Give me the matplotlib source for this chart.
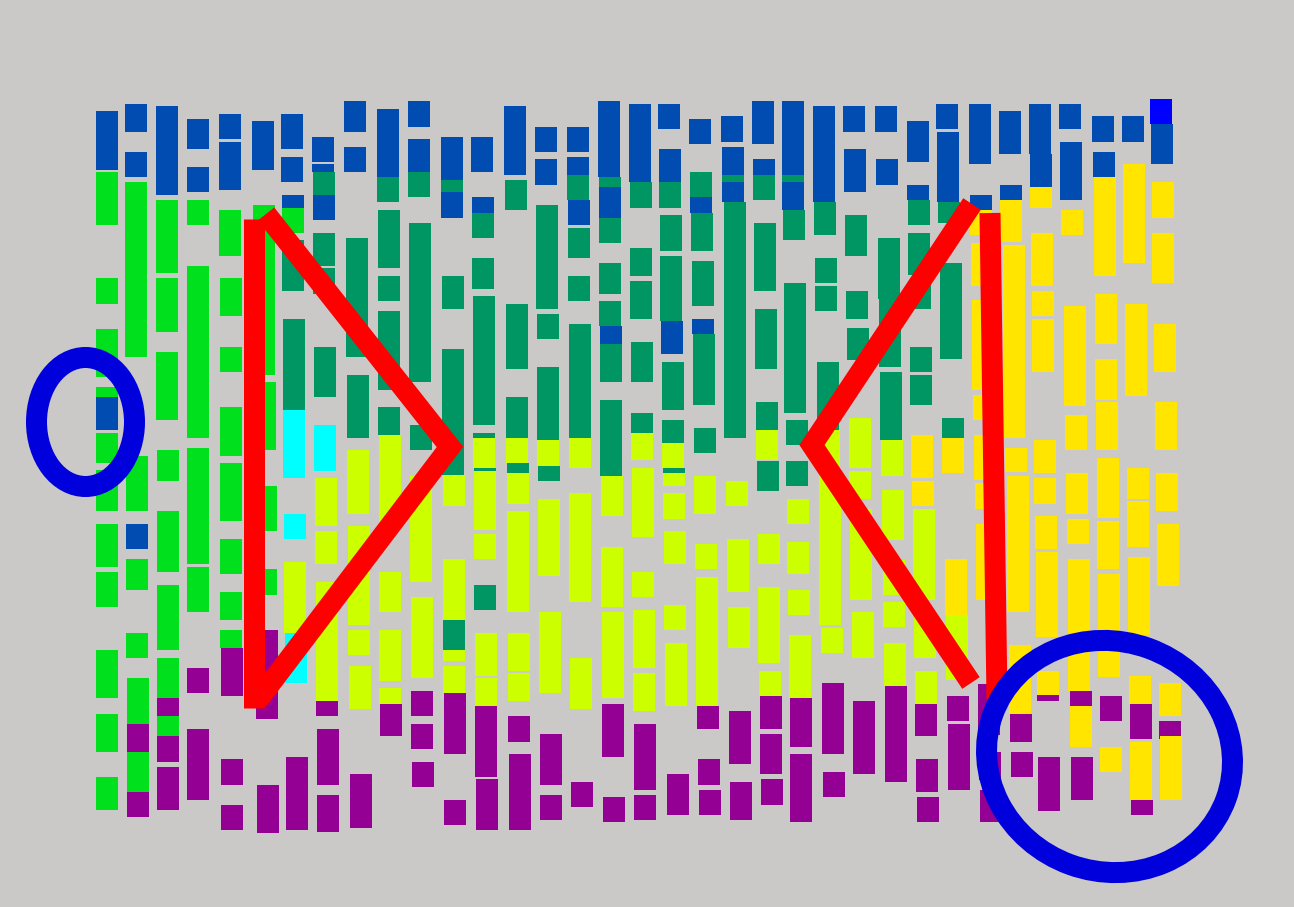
import matplotlib.pyplot as plt
from matplotlib.patches import Ellipse

# column centres (px) at the top (y=100) and bottom (y=830) of the board
col_x_top = [107, 136, 167, 198, 230, 263, 292, 323, 355, 388, 419, 452,
             482, 515, 546, 578, 609, 640, 669, 700, 732, 763, 792, 823,
             854, 886, 917, 947, 979, 1009, 1040, 1070, 1103, 1133, 1161]
col_x_bottom = [107, 138, 168, 198, 232, 268, 297, 328, 361, 391, 423, 455,
                487, 520, 551, 582, 614, 645, 678, 710, 741, 772, 802, 835,
                866, 898, 928, 960, 991, 1023, 1050, 1083, 1112, 1142, 1172]

# blocks per column: (top, bottom, colour code)
seg_00 = [(111, 170, 'B'), (172, 225, 'G'), (278, 304, 'G'), (329, 377, 'G'), (387, 405, 'G'),
          (397, 430, 'B'), (433, 463, 'G'), (470, 511, 'G'), (524, 567, 'G'), (572, 607, 'G'),
          (650, 698, 'G'), (714, 752, 'G'), (777, 810, 'G')]
seg_01 = [(104, 132, 'B'), (152, 177, 'B'), (182, 357, 'G'), (456, 511, 'G'), (524, 549, 'B'),
          (559, 590, 'G'), (633, 658, 'G'), (678, 724, 'G'), (724, 752, 'P'), (752, 792, 'G'),
          (792, 817, 'P')]
seg_02 = [(106, 195, 'B'), (200, 273, 'G'), (278, 332, 'G'), (352, 420, 'G'), (450, 481, 'G'),
          (511, 572, 'G'), (585, 650, 'G'), (658, 698, 'G'), (698, 716, 'P'), (716, 736, 'G'),
          (736, 762, 'P'), (767, 810, 'P')]
seg_03 = [(119, 149, 'B'), (167, 192, 'B'), (200, 225, 'G'), (266, 438, 'G'), (448, 564, 'G'),
          (567, 612, 'G'), (668, 693, 'P'), (729, 800, 'P')]
seg_04 = [(114, 139, 'B'), (142, 190, 'B'), (210, 256, 'G'), (278, 316, 'G'), (347, 372, 'G'),
          (407, 456, 'G'), (463, 521, 'G'), (539, 574, 'G'), (592, 620, 'G'), (630, 648, 'G'),
          (648, 696, 'P'), (759, 785, 'P'), (805, 830, 'P')]
seg_05 = [(121, 170, 'B'), (205, 375, 'G'), (382, 450, 'G'), (486, 531, 'G'), (569, 595, 'G'),
          (630, 719, 'P'), (785, 833, 'P')]
seg_06 = [(114, 149, 'B'), (157, 182, 'B'), (195, 208, 'B'), (208, 233, 'G'), (240, 291, 'T'),
          (319, 410, 'T'), (410, 478, 'C'), (514, 539, 'C'), (562, 633, 'L'), (633, 683, 'C'),
          (757, 785, 'P'), (785, 830, 'P')]
seg_07 = [(137, 162, 'B'), (164, 172, 'B'), (172, 195, 'T'), (195, 220, 'B'), (233, 266, 'T'),
          (268, 294, 'T'), (347, 397, 'T'), (425, 471, 'C'), (478, 526, 'L'), (531, 564, 'L'),
          (582, 701, 'L'), (701, 716, 'P'), (729, 785, 'P'), (795, 832, 'P')]
seg_08 = [(101, 132, 'B'), (147, 172, 'B'), (238, 357, 'T'), (375, 438, 'T'), (450, 514, 'L'),
          (526, 625, 'L'), (630, 655, 'L'), (666, 709, 'L'), (774, 828, 'P')]
seg_09 = [(109, 177, 'B'), (177, 202, 'T'), (210, 268, 'T'), (276, 301, 'T'), (311, 390, 'T'),
          (407, 435, 'T'), (435, 525, 'L'), (572, 612, 'L'), (630, 681, 'L'), (688, 704, 'L'),
          (704, 736, 'P')]
seg_10 = [(101, 127, 'B'), (139, 172, 'B'), (172, 197, 'T'), (223, 382, 'T'), (425, 450, 'T'),
          (476, 582, 'L'), (597, 678, 'L'), (691, 716, 'P'), (724, 749, 'P'), (762, 787, 'P')]
seg_11 = [(137, 180, 'B'), (180, 192, 'T'), (192, 218, 'B'), (276, 309, 'T'), (349, 475, 'T'),
          (475, 506, 'L'), (559, 620, 'L'), (620, 650, 'T'), (650, 661, 'L'), (666, 693, 'L'),
          (693, 754, 'P'), (800, 825, 'P')]
seg_12 = [(137, 172, 'B'), (197, 213, 'B'), (213, 238, 'T'), (258, 289, 'T'), (296, 425, 'T'),
          (433, 438, 'T'), (438, 468, 'L'), (468, 471, 'T'), (471, 530, 'L'), (534, 559, 'L'),
          (585, 610, 'T'), (633, 676, 'L'), (678, 706, 'L'), (706, 777, 'P'), (779, 830, 'P')]
seg_13 = [(106, 175, 'B'), (180, 210, 'T'), (304, 369, 'T'), (397, 438, 'T'), (438, 463, 'L'),
          (463, 473, 'T'), (473, 504, 'L'), (511, 612, 'L'), (633, 671, 'L'), (673, 701, 'L'),
          (716, 742, 'P'), (754, 830, 'P')]
seg_14 = [(127, 152, 'B'), (159, 185, 'B'), (205, 309, 'T'), (314, 339, 'T'), (367, 440, 'T'),
          (440, 466, 'L'), (466, 481, 'T'), (499, 576, 'L'), (612, 693, 'L'), (734, 785, 'P'),
          (795, 820, 'P')]
seg_15 = [(127, 152, 'B'), (157, 175, 'B'), (175, 200, 'T'), (200, 225, 'B'), (228, 258, 'T'),
          (276, 301, 'T'), (324, 438, 'T'), (438, 468, 'L'), (493, 602, 'L'), (658, 709, 'L'),
          (782, 807, 'P')]
seg_16 = [(101, 177, 'B'), (177, 187, 'T'), (187, 218, 'B'), (218, 243, 'T'), (263, 294, 'T'),
          (301, 326, 'T'), (326, 344, 'B'), (344, 382, 'T'), (400, 476, 'T'), (476, 516, 'L'),
          (547, 607, 'L'), (612, 698, 'L'), (704, 757, 'P'), (797, 822, 'P')]
seg_17 = [(104, 182, 'B'), (182, 208, 'T'), (248, 276, 'T'), (281, 319, 'T'), (342, 382, 'T'),
          (413, 433, 'T'), (433, 460, 'L'), (468, 537, 'L'), (572, 597, 'L'), (610, 668, 'L'),
          (673, 711, 'L'), (724, 790, 'P'), (795, 820, 'P')]
seg_18 = [(104, 129, 'B'), (149, 182, 'B'), (182, 208, 'T'), (215, 251, 'T'), (256, 321, 'T'),
          (321, 354, 'B'), (362, 410, 'T'), (420, 443, 'T'), (443, 468, 'L'), (468, 473, 'T'),
          (473, 486, 'L'), (493, 519, 'L'), (531, 564, 'L'), (605, 630, 'L'), (643, 706, 'L'),
          (774, 815, 'P')]
seg_19 = [(119, 144, 'B'), (172, 197, 'T'), (197, 213, 'B'), (213, 251, 'T'), (261, 306, 'T'),
          (319, 334, 'B'), (334, 405, 'T'), (428, 453, 'T'), (476, 514, 'L'), (544, 569, 'L'),
          (577, 706, 'L'), (706, 729, 'P'), (759, 785, 'P'), (790, 815, 'P')]
seg_20 = [(116, 142, 'B'), (147, 175, 'B'), (175, 182, 'T'), (182, 202, 'B'), (202, 438, 'T'),
          (481, 506, 'L'), (539, 592, 'L'), (607, 648, 'L'), (711, 764, 'P'), (782, 820, 'P')]
seg_21 = [(101, 144, 'B'), (159, 175, 'B'), (175, 200, 'T'), (223, 291, 'T'), (309, 369, 'T'),
          (402, 430, 'T'), (430, 460, 'L'), (461, 491, 'T'), (534, 564, 'L'), (587, 663, 'L'),
          (671, 696, 'L'), (696, 729, 'P'), (734, 774, 'P'), (779, 805, 'P')]
seg_22 = [(101, 175, 'B'), (175, 182, 'T'), (182, 210, 'B'), (210, 240, 'T'), (283, 413, 'T'),
          (420, 445, 'T'), (461, 486, 'T'), (499, 524, 'L'), (542, 574, 'L'), (590, 615, 'L'),
          (635, 698, 'L'), (698, 747, 'P'), (754, 822, 'P')]
seg_23 = [(106, 202, 'B'), (202, 235, 'T'), (258, 283, 'T'), (286, 311, 'T'), (362, 430, 'T'),
          (430, 473, 'L'), (476, 625, 'L'), (628, 653, 'L'), (683, 754, 'P'), (772, 797, 'P')]
seg_24 = [(106, 132, 'B'), (149, 192, 'B'), (215, 256, 'T'), (291, 319, 'T'), (328, 360, 'T'),
          (418, 468, 'L'), (471, 499, 'L'), (509, 600, 'L'), (612, 658, 'L'), (701, 774, 'P')]
seg_25 = [(106, 132, 'B'), (159, 185, 'B'), (238, 299, 'T'), (299, 367, 'T'), (372, 440, 'T'),
          (440, 476, 'L'), (490, 540, 'L'), (560, 595, 'L'), (602, 627, 'L'), (643, 686, 'L'),
          (686, 782, 'P')]
seg_26 = [(121, 162, 'B'), (185, 200, 'B'), (200, 225, 'T'), (233, 275, 'T'), (283, 309, 'T'),
          (347, 372, 'T'), (375, 405, 'T'), (435, 478, 'Y'), (481, 506, 'Y'), (509, 600, 'L'),
          (615, 658, 'L'), (671, 704, 'L'), (704, 736, 'P'), (759, 792, 'P'), (797, 822, 'P')]
seg_27 = [(104, 129, 'B'), (132, 157, 'B'), (157, 202, 'B'), (202, 223, 'T'), (263, 359, 'T'),
          (418, 438, 'T'), (438, 473, 'Y'), (559, 615, 'Y'), (615, 680, 'L'), (696, 721, 'P'),
          (724, 790, 'P')]
seg_28 = [(104, 164, 'B'), (195, 210, 'B'), (210, 235, 'Y'), (243, 286, 'Y'), (300, 390, 'Y'),
          (395, 420, 'Y'), (435, 480, 'Y'), (483, 509, 'Y'), (524, 600, 'Y'), (684, 735, 'P'),
          (752, 780, 'P'), (790, 822, 'P')]
seg_29 = [(111, 154, 'B'), (185, 200, 'B'), (200, 242, 'Y'), (245, 438, 'Y'), (448, 472, 'Y'),
          (476, 612, 'Y'), (645, 714, 'Y'), (714, 742, 'P'), (752, 777, 'P')]
seg_30 = [(104, 154, 'B'), (154, 187, 'B'), (187, 208, 'Y'), (233, 286, 'Y'), (291, 316, 'Y'),
          (319, 372, 'Y'), (440, 473, 'Y'), (478, 504, 'Y'), (516, 549, 'Y'), (552, 637, 'Y'),
          (671, 695, 'Y'), (695, 701, 'P'), (757, 811, 'P')]
seg_31 = [(104, 129, 'B'), (142, 200, 'B'), (210, 235, 'Y'), (306, 406, 'Y'), (415, 450, 'Y'),
          (473, 514, 'Y'), (519, 544, 'Y'), (559, 691, 'Y'), (691, 706, 'P'), (706, 747, 'Y'),
          (757, 800, 'P')]
seg_32 = [(116, 142, 'B'), (152, 177, 'B'), (177, 276, 'Y'), (294, 344, 'Y'), (359, 400, 'Y'),
          (402, 450, 'Y'), (458, 518, 'Y'), (521, 569, 'Y'), (574, 677, 'Y'), (696, 721, 'P'),
          (747, 772, 'Y')]
seg_33 = [(116, 142, 'B'), (164, 263, 'Y'), (304, 396, 'Y'), (468, 499, 'Y'), (501, 547, 'Y'),
          (557, 635, 'Y'), (676, 704, 'Y'), (704, 739, 'P'), (742, 800, 'Y'), (800, 815, 'P')]
seg_34 = [(99, 124, 'X'), (124, 164, 'B'), (182, 218, 'Y'), (233, 283, 'Y'), (324, 372, 'Y'),
          (402, 450, 'Y'), (473, 511, 'Y'), (524, 586, 'Y'), (683, 716, 'Y'), (721, 739, 'P'),
          (736, 800, 'Y')]

columns = [seg_00, seg_01, seg_02, seg_03, seg_04, seg_05, seg_06, seg_07, seg_08,
           seg_09, seg_10, seg_11, seg_12, seg_13, seg_14, seg_15, seg_16, seg_17,
           seg_18, seg_19, seg_20, seg_21, seg_22, seg_23, seg_24, seg_25, seg_26,
           seg_27, seg_28, seg_29, seg_30, seg_31, seg_32, seg_33, seg_34]

palette = {'B': '#004cb1', 'G': '#00e01c', 'T': '#009664', 'L': '#ccff00',
           'Y': '#ffe500', 'P': '#930093', 'C': '#00ffff', 'X': '#0000ff'}

# red strokes (px)
left_bar_x, left_bar_y = [254, 254], [219, 708]
left_chevron_x, left_chevron_y = [266, 450, 258], [214, 447, 700]
right_bar_x, right_bar_y = [990, 997], [213, 699]
right_chevron_x, right_chevron_y = [972, 812, 971], [204, 445, 683]

# blue rings: centre x, centre y, width, height, tilt
ring_left = (85.5, 422, 98, 129, 0)
ring_right = (1109.5, 756.5, 248, 230, 20)

fig = plt.figure(figsize=(12.94, 9.07), dpi=100)
fig.patch.set_facecolor('#cbc9c7')
ax = fig.add_axes([0, 0, 1, 1])
ax.set_facecolor('#cbc9c7')
ax.set_xlim(0, 1294)
ax.set_ylim(907, 0)
ax.axis('off')

xs, heights, bottoms, colors = [], [], [], []
for i, segs in enumerate(columns):
    for y0, y1, code in segs:
        t = ((y0 + y1) / 2 - 100) / 730
        xs.append(col_x_top[i] + (col_x_bottom[i] - col_x_top[i]) * t)
        heights.append(y1 - y0)
        bottoms.append(y0)
        colors.append(palette[code])
ax.bar(xs, heights, width=22, bottom=bottoms, color=colors, linewidth=0, zorder=1)

red_lw = 21 * 72 / 100
for lx, ly in [(left_bar_x, left_bar_y), (right_bar_x, right_bar_y)]:
    ax.plot(lx, ly, color='#ff0000', lw=red_lw, solid_capstyle='butt', zorder=2)
for lx, ly in [(left_chevron_x, left_chevron_y), (right_chevron_x, right_chevron_y)]:
    ax.plot(lx, ly, color='#ff0000', lw=red_lw, solid_capstyle='butt',
            solid_joinstyle='miter', zorder=2)

for cx, cy, w, h, ang in [ring_left, ring_right]:
    ax.add_patch(Ellipse((cx, cy), w, h, angle=ang, fill=False, edgecolor='#0000dc',
                         lw=21 * 72 / 100, zorder=3))

fig.savefig('out.png', dpi=100, facecolor=fig.get_facecolor())
